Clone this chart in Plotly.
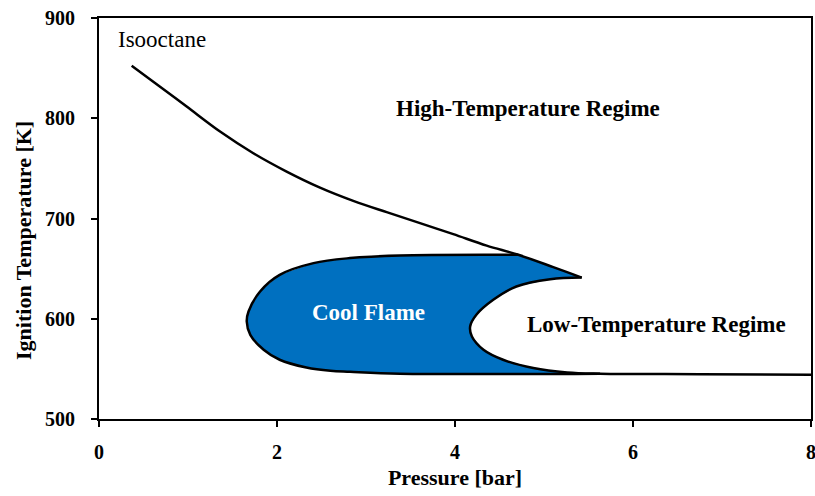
import plotly.graph_objects as go

# Upper ignition limit (high-temperature boundary), from the start of the curve to the tip
upper_p = [0.367, 0.610, 0.985, 1.360, 1.734, 2.108, 2.483, 2.857, 3.232, 3.607, 3.981, 4.356, 4.711, 5.104, 5.424]
upper_T = [852.4, 836.5, 811.6, 786.7, 765.1, 746.8, 730.8, 717.6, 706.3, 695.4, 684.4, 673.0, 663.8, 651.5, 641.1]

# Inner (low-temperature side) boundary of the cool-flame lobe, tip down to the bottom line
inner_p = [5.424, 5.07, 4.69, 4.43, 4.24, 4.17, 4.19, 4.32, 4.54, 4.88, 5.26, 5.63, 6.75, 8.0]
inner_T = [641.1, 639.5, 632.2, 618.9, 604.0, 592.3, 582.3, 569.1, 559.1, 550.8, 546.4, 545.2, 544.7, 544.2]

# Outer boundary of the cool-flame lobe: top edge, left nose, bottom edge
outer_p = [4.711, 4.51, 3.38, 2.82, 2.41, 2.03, 1.81, 1.68, 1.66, 1.70, 1.85, 2.03, 2.33, 2.60, 2.82, 3.38, 5.63]
outer_T = [663.8, 663.8, 663.1, 660.5, 655.5, 643.8, 627.2, 607.2, 597.3, 584.0, 569.1, 559.1, 551.4, 548.1, 547.1, 545.2, 545.2]

x_ticks = [0, 2, 4, 6, 8]
y_ticks = [500, 600, 700, 800, 900]

FONT = "Palatino Linotype, Book Antiqua, Palatino, Liberation Serif, serif"
BLUE = "#0070C0"

# Closed outline of the cool-flame region: junction -> tip -> inner curve -> outer edge back
junc_i = upper_p.index(outer_p[0])
end_i = inner_p.index(outer_p[-1])
fill_p = upper_p[junc_i:] + inner_p[1:end_i + 1] + outer_p[::-1][1:]
fill_T = upper_T[junc_i:] + inner_T[1:end_i + 1] + outer_T[::-1][1:]

fig = go.Figure()
fig.add_trace(go.Scatter(x=fill_p, y=fill_T, mode="lines", fill="toself",
                         fillcolor=BLUE, line=dict(width=0, color=BLUE),
                         hoverinfo="skip", showlegend=False))
for xs, ys in ((upper_p, upper_T), (inner_p, inner_T), (outer_p, outer_T)):
    fig.add_trace(go.Scatter(x=xs, y=ys, mode="lines",
                             line=dict(color="black", width=2.5, shape="spline", smoothing=1.0),
                             hoverinfo="skip", showlegend=False))

ann_font = dict(family=FONT, size=23, color="black")
fig.add_annotation(x=0.19, y=879, text="Isooctane", showarrow=False,
                   xanchor="left", yanchor="middle", font=ann_font)
fig.add_annotation(x=4.82, y=810, text="<b>High-Temperature Regime</b>", showarrow=False,
                   xanchor="center", yanchor="middle", font=ann_font)
fig.add_annotation(x=6.26, y=594, text="<b>Low-Temperature Regime</b>", showarrow=False,
                   xanchor="center", yanchor="middle", font=ann_font)
fig.add_annotation(x=3.03, y=606, text="<b>Cool Flame</b>", showarrow=False,
                   xanchor="center", yanchor="middle",
                   font=dict(family=FONT, size=23, color="white"))

# Vertical axis title, placed as a rotated label
fig.add_annotation(xref="paper", yref="paper", x=-0.107, y=0.446,
                   text="<b>Ignition Temperature [K]</b>", textangle=-90, showarrow=False,
                   xanchor="center", yanchor="middle",
                   font=dict(family=FONT, size=22, color="black"))

axis_common = dict(showgrid=False, zeroline=False, showline=True, linecolor="black",
                   linewidth=2, mirror=True, ticks="outside", ticklen=6, tickwidth=2,
                   tickcolor="black", automargin=False, ticklabeloverflow="allow",
                   tickfont=dict(family=FONT, size=20, color="black", weight="bold"))

fig.update_xaxes(range=[0, 8], tickvals=x_ticks, ticklabelstandoff=8,
                 title=dict(text="Pressure [bar]", standoff=8,
                            font=dict(family=FONT, size=22, color="black", weight="bold")),
                 **axis_common)
fig.update_yaxes(range=[500, 900], tickvals=y_ticks, ticklabelstandoff=12,
                 **axis_common)

fig.update_layout(width=815, height=496, margin=dict(l=99, r=4, t=18, b=77),
                  plot_bgcolor="white", paper_bgcolor="white")

fig.write_html("out.html")
